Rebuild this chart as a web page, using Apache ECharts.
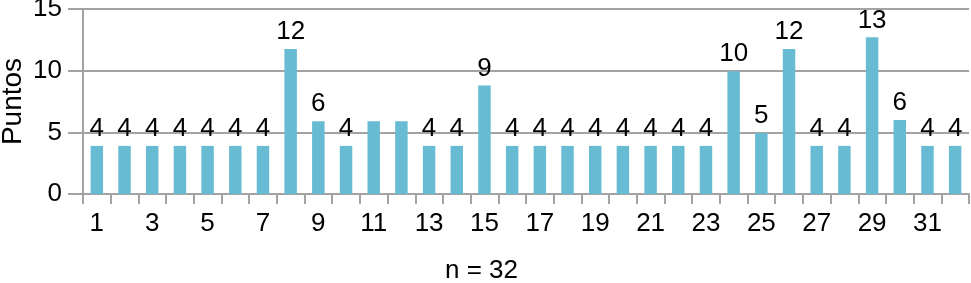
<!DOCTYPE html>
<html>
<head>
<meta charset="utf-8">
<script src="https://cdn.jsdelivr.net/npm/echarts@6/dist/echarts.min.js"></script>
<style>html,body{margin:0;padding:0;background:#fff}#c{width:971px;height:283px}</style>
</head>
<body>
<div id="c"></div>
<script>
const categories = ["1","2","3","4","5","6","7","8","9","10","11","12","13","14","15","16","17","18","19","20","21","22","23","24","25","26","27","28","29","30","31","32"];
const values = [3.9,3.9,3.9,3.9,3.9,3.9,3.9,11.75,5.9,3.9,5.9,5.9,3.9,3.9,8.8,3.9,3.9,3.9,3.9,3.9,3.9,3.9,3.9,9.95,4.95,11.75,3.9,3.9,12.7,6.0,3.9,3.9];
const labels = ["4","4","4","4","4","4","4","12","6","4","","","4","4","9","4","4","4","4","4","4","4","4","10","5","12","4","4","13","6","4","4"];
const yTicks = [0,5,10,15];
const yName = "Puntos";
const footnote = "n = 32";

const FONT = "'Liberation Sans', Arial, Helvetica, sans-serif";
const GRAY = "#a3a3a3";
const chart = echarts.init(document.getElementById('c'), null, {renderer:'canvas'});
chart.setOption({
  animation:false,
  grid:{left:83,right:2,top:9,bottom:89,containLabel:false,outerBoundsMode:'none'},
  xAxis:{
    type:'category', data:categories, boundaryGap:true,
    axisLine:{show:true,lineStyle:{color:GRAY,width:2}},
    axisTick:{show:true,interval:0,length:10,lineStyle:{color:GRAY,width:2}},
    axisLabel:{interval:1,color:'#000',fontSize:26,fontFamily:FONT,margin:17},
    splitLine:{show:false}
  },
  yAxis:{
    type:'value', min:yTicks[0], max:yTicks[yTicks.length-1], interval:5,
    name:yName, nameLocation:'middle', nameGap:56, nameRotate:90, nameMoveOverlap:false,
    nameTextStyle:{color:'#000',fontSize:28,fontFamily:FONT},
    axisLine:{show:true,lineStyle:{color:GRAY,width:2}},
    axisTick:{show:true,length:15,lineStyle:{color:GRAY,width:2}},
    axisLabel:{color:'#000',fontSize:26,fontFamily:FONT,margin:21},
    splitLine:{show:true,lineStyle:{color:GRAY,width:2}}
  },
  graphic:[{type:'text',left:445,top:258,style:{text:footnote,fontSize:26,fontFamily:FONT,fill:'#000'}}],
  series:[{
    type:'bar', data:values, barWidth:'45%',
    itemStyle:{color:'#67bbd2'},
    label:{show:true,position:'top',distance:4,color:'#000',fontSize:26,fontFamily:FONT,
      formatter:p=>labels[p.dataIndex]}
  }]
});
</script>
</body>
</html>
